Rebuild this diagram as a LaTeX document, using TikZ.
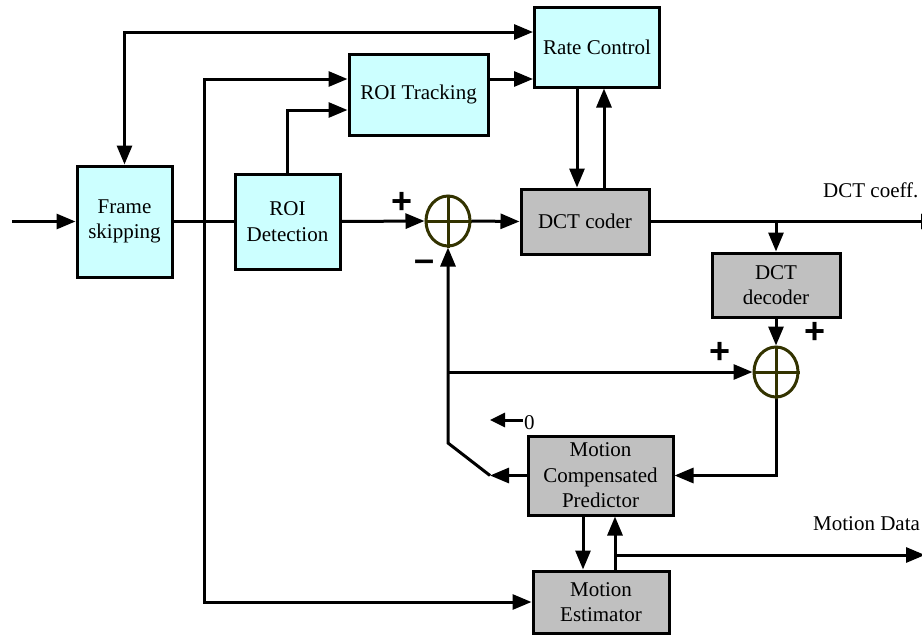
\documentclass[tikz,border=0pt]{standalone}
\usepackage{fontspec}
\setmainfont{Liberation Serif}
\newfontfamily\seriffont{Liberation Serif}
\newfontfamily\signfont{Liberation Sans}
\usetikzlibrary{arrows.meta,shapes.geometric,calc}
\definecolor{boxcyan}{RGB}{204,255,255}
\definecolor{boxgray}{RGB}{192,192,192}
\definecolor{sumcol}{RGB}{51,51,0}

\begin{document}
\begin{tikzpicture}[x=1pt,y=-1pt,
  every node/.style={font=\seriffont\fontsize{21}{25.5}\selectfont},
  blk/.style={draw=black, line width=3pt, align=center, inner sep=0pt,
    font=\seriffont\fontsize{21}{25.5}\selectfont},
  cyanblk/.style={blk, fill=boxcyan},
  grayblk/.style={blk, fill=boxgray},
  sumnode/.style={ellipse, draw=sumcol, line width=3pt, minimum width=44pt,
    minimum height=50pt, inner sep=0pt},
  signtxt/.style={font=\signfont\bfseries\fontsize{36}{36}\selectfont, inner sep=0pt},
  wire/.style={line width=3pt},
  arr/.style={wire, -{Triangle[length=19pt,width=15pt]}},
  smallarr/.style={wire, -{Triangle[length=15pt,width=14pt]}},
  lbl/.style={inner sep=0pt, anchor=base west}
]
\clip (0,0) rectangle (922,635);

% processing blocks
\node[cyanblk, minimum width=95pt, minimum height=111pt] (fs) at (124.5,221.5) {Frame\\skipping};
\node[cyanblk, minimum width=105pt, minimum height=95pt] (roid) at (287.5,221.5) {ROI\\Detection};
\node[cyanblk, minimum width=139pt, minimum height=81pt] (roit) at (418.5,94.5) {ROI Tracking};
\node[cyanblk, minimum width=125pt, minimum height=80pt] (rc) at (597,47) {Rate Control};
\node[grayblk, minimum width=128pt, minimum height=65pt] (dctc) at (585,221.5) {DCT coder};
\node[grayblk, minimum width=128pt, minimum height=64pt] (dctd) at (776,285) {DCT\\decoder};
\node[grayblk, minimum width=145pt, minimum height=79pt] (mcp) at (600.5,475.5) {Motion\\Compensated\\Predictor};
\node[grayblk, minimum width=136pt, minimum height=62pt] (me) at (601,602) {Motion\\Estimator};

% summing junctions
\node[sumnode] (s1) at (448,221) {};
\draw[sumcol, line width=3pt] (s1.north) -- (s1.south) (s1.west) -- (s1.east);
\node[sumnode] (s2) at (776,372) {};
\draw[sumcol, line width=3pt] (s2.north) -- (s2.south) (s2.west) -- (s2.east);

% signs
\node[signtxt] (p1) at (402,203) {+};
\node[signtxt] (m1) at (425,266) {–};
\node[signtxt] (p2) at (815,333) {+};
\node[signtxt] (p3) at (720,353) {+};

% outside labels
\node[lbl] (lcoef) at (823,197) {DCT coeff.};
\node[lbl] (lmot) at (813,530) {Motion Data};
\node[inner sep=0pt, anchor=west] (zero) at (524,423) {0};

% helper points
\coordinate (in) at (12,221.5);
\coordinate (tap) at (204,221.5);
\coordinate (outc) at (940,221.5);
\coordinate (outm) at (925,555);
\coordinate (sw) at (490,475.5);
\coordinate (knee) at (448,443);
\coordinate (mdtap) at (615,555);
\coordinate (zt) at (490,420);

% forward path
\draw[arr] (in) -- (fs.west);
\draw[wire] (fs.east) -- (roid.west);
\draw[arr] (roid.east) -- (s1.west);
\draw[arr] (s1.east) -- (dctc.west);
\draw[arr] (dctc.east) -- (outc);
\draw[arr] (dctc.east -| dctd.north) -- (dctd.north);
\draw[arr] (dctd.south) -- (s2.north);

% taps of the skipped frames
\draw[arr] (tap) |- ([yshift=15.5pt]roit.west);
\draw[arr] (tap) |- (me.west);
\draw[arr] (roid.north) |- ([yshift=-15.5pt]roit.west);

% rate control loop
\draw[wire, {Triangle[length=19pt,width=15pt]}-{Triangle[length=19pt,width=15pt]}]
  (fs.north) |- ([yshift=15pt]rc.west);
\draw[arr] ([yshift=15.5pt]roit.east) -- ([yshift=15.5pt]roit.east -| rc.west);
\draw[arr] ([xshift=-20pt]rc.south) -- ([xshift=-20pt]rc.south |- dctc.north);
\draw[arr] ([xshift=19pt]dctc.north) -- ([xshift=19pt]dctc.north |- rc.south);

% prediction loop
\draw[arr] (s2.south) |- (mcp.east);
\draw[arr] (mcp.west) -- (sw);
\draw[arr] (sw) -- (knee) -- (s1.south);
\draw[arr] (s1.south |- s2.west) -- (s2.west);
\draw[smallarr] ([xshift=-1pt]zero.west |- zt) -- (zt);

% motion estimation
\draw[arr] ([xshift=-17.5pt]mcp.south) -- ([xshift=-17.5pt]mcp.south |- me.north);
\draw[arr] ([xshift=14pt]me.north) -- ([xshift=14pt]me.north |- mcp.south);
\draw[arr] (mdtap) -- (outm);
\end{tikzpicture}
\end{document}
